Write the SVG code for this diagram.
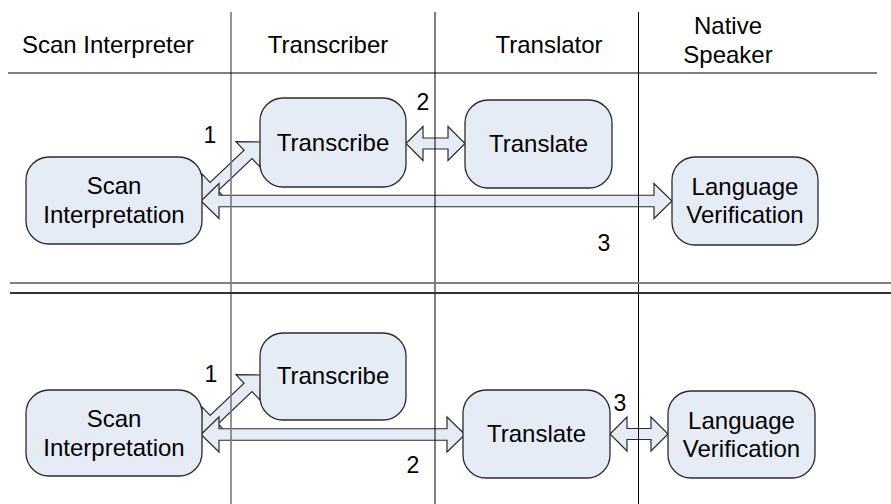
<svg xmlns="http://www.w3.org/2000/svg" width="891" height="504" viewBox="0 0 891 504">
<style>
  .hdr { font-family: "Liberation Sans", Arial, sans-serif; font-size: 24px; fill: #000; text-anchor: middle; }
  .lbl { font-family: "Liberation Sans", Arial, sans-serif; font-size: 24px; fill: #000; text-anchor: middle; }
  .num { font-family: "Liberation Sans", Arial, sans-serif; font-size: 23px; fill: #000; text-anchor: middle; }
  .box { fill: #E6ECF6; stroke: #2b2b2b; stroke-width: 1.3; }
  .arr { fill: #E6ECF6; stroke: #2b2b2b; stroke-width: 1.2; stroke-linejoin: miter; }
  .lane { stroke: #000; stroke-width: 1; }
</style>
<rect width="891" height="504" fill="#fff"/>

<g id="connectors">
  <!-- top: 1 Scan <-> Transcribe -->
  <polygon class="arr" transform="translate(201,199) rotate(-43.5)" points="0,0 18,-17.5 18,-5.75 64.8,-5.75 64.8,-17.5 82.8,0 64.8,17.5 64.8,5.75 18,5.75 18,17.5"/>
  <!-- top: 2 Transcribe <-> Translate -->
  <polygon class="arr" points="406,143.5 423,126.5 423,138 448,138 448,126.5 465,143.5 448,160.5 448,149 423,149 423,160.5"/>
  <!-- top: 3 Scan <-> Language Verification -->
  <polygon class="arr" points="201,201 219,183.5 219,195.25 654,195.25 654,183.5 672,201 654,218.5 654,206.75 219,206.75 219,218.5"/>
  <!-- bottom: 1 Scan <-> Transcribe -->
  <polygon class="arr" transform="translate(201,432) rotate(-43.5)" points="0,0 18,-17.5 18,-5.75 64.8,-5.75 64.8,-17.5 82.8,0 64.8,17.5 64.8,5.75 18,5.75 18,17.5"/>
  <!-- bottom: 2 Scan <-> Translate -->
  <polygon class="arr" points="201,434.5 219,417 219,428.75 447,428.75 447,417 465,434.5 447,452 447,440.25 219,440.25 219,452"/>
  <!-- bottom: 3 Translate <-> Language Verification -->
  <polygon class="arr" points="610,434 627,417 627,428.5 651,428.5 651,417 668,434 651,451 651,439.5 627,439.5 627,451"/>
</g>

<g id="lanes">
  <line x1="231" y1="12" x2="231" y2="504" stroke="#7a7a7a" stroke-width="1.6"/>
  <line class="lane" x1="435" y1="12" x2="435" y2="504"/>
  <line class="lane" x1="638.5" y1="12" x2="638.5" y2="504"/>
  <line class="lane" x1="8" y1="73" x2="877" y2="73"/>
  <line x1="10" y1="283" x2="891" y2="283" stroke="#808080" stroke-width="2"/>
  <line x1="10" y1="293" x2="891" y2="293" stroke="#333" stroke-width="2"/>
</g>

<g id="headers">
  <text class="hdr" x="108" y="53">Scan Interpreter</text>
  <text class="hdr" x="328" y="53">Transcriber</text>
  <text class="hdr" x="549" y="53">Translator</text>
  <text class="hdr" x="728" y="34">Native</text>
  <text class="hdr" x="728" y="63">Speaker</text>
</g>

<g id="node-scan-top">
  <rect class="box" x="26" y="157" width="176" height="87" rx="23"/>
  <text class="lbl" x="114" y="194">Scan</text>
  <text class="lbl" x="114" y="223">Interpretation</text>
</g>
<g id="node-transcribe-top">
  <rect class="box" x="260" y="98" width="146" height="89" rx="23"/>
  <text class="lbl" x="333" y="151">Transcribe</text>
</g>
<g id="node-translate-top">
  <rect class="box" x="465" y="100" width="147" height="88" rx="23"/>
  <text class="lbl" x="538.5" y="152">Translate</text>
</g>
<g id="node-verification-top">
  <rect class="box" x="672" y="157" width="146" height="88" rx="23"/>
  <text class="lbl" x="745" y="195">Language</text>
  <text class="lbl" x="745" y="223">Verification</text>
</g>

<g id="node-scan-bottom">
  <rect class="box" x="26" y="390" width="176" height="86" rx="23"/>
  <text class="lbl" x="114" y="427">Scan</text>
  <text class="lbl" x="114" y="456">Interpretation</text>
</g>
<g id="node-transcribe-bottom">
  <rect class="box" x="260" y="333" width="146" height="87" rx="23"/>
  <text class="lbl" x="333" y="384">Transcribe</text>
</g>
<g id="node-translate-bottom">
  <rect class="box" x="463" y="390" width="147" height="88" rx="23"/>
  <text class="lbl" x="536.5" y="442">Translate</text>
</g>
<g id="node-verification-bottom">
  <rect class="box" x="668" y="391" width="147" height="87" rx="23"/>
  <text class="lbl" x="741.5" y="429">Language</text>
  <text class="lbl" x="741.5" y="457">Verification</text>
</g>

<g id="labels">
  <text class="num" x="210" y="143">1</text>
  <text class="num" x="423" y="110">2</text>
  <text class="num" x="604" y="251">3</text>
  <text class="num" x="211" y="382">1</text>
  <text class="num" x="413" y="473">2</text>
  <text class="num" x="620" y="411">3</text>
</g>
</svg>
